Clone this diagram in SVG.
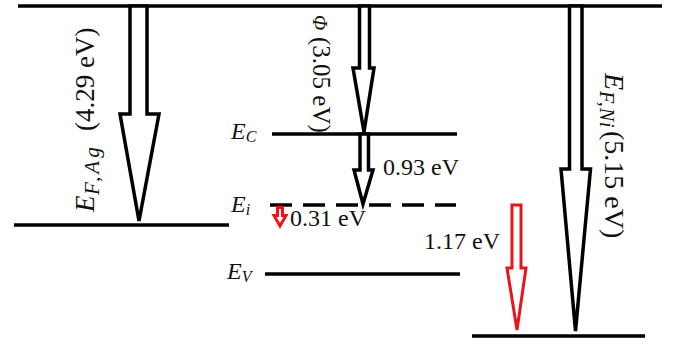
<svg xmlns="http://www.w3.org/2000/svg" width="673" height="344" viewBox="0 0 673 344">
<style>
.lvl{stroke:#000;stroke-width:3.5;fill:none}
.arr{fill:#fff;stroke:#000;stroke-width:3.5;stroke-linejoin:miter}
.red{fill:#fff;stroke:#e8161b;stroke-width:3;stroke-linejoin:miter}
text{font-family:"Liberation Serif","Times New Roman",serif;fill:#111}
.it{font-style:italic}
.num{font-size:24px}
.lab{font-size:24px;font-style:italic}
</style>
<rect width="673" height="344" fill="#fff"/>
<g id="vacuum-level"><line class="lvl" x1="18" y1="6" x2="662" y2="6"/></g>
<g id="ag-fermi"><line class="lvl" x1="14" y1="225" x2="229" y2="225"/></g>
<g id="ec-level"><line class="lvl" x1="272" y1="134" x2="457" y2="134"/>
<text class="lab" x="231" y="139">E<tspan font-size="16" dy="3">C</tspan></text></g>
<g id="ei-level"><line class="lvl" x1="270" y1="205" x2="456" y2="205" stroke-dasharray="22 11"/>
<text class="lab" x="231" y="212">E<tspan font-size="16" dy="3">i</tspan></text></g>
<g id="ev-level"><line class="lvl" x1="265" y1="274" x2="460" y2="274"/>
<text class="lab" x="227" y="279">E<tspan font-size="16" dy="3">V</tspan></text></g>
<g id="ni-fermi"><line class="lvl" x1="472" y1="336" x2="645" y2="336"/></g>
<g id="connectors">
<polygon class="arr" points="130,6 147,6 147,114 159,114 139,221 120,114 130,114"/>
<polygon class="arr" stroke-width="3" points="359.5,6 369.5,6 369.5,68 374,68 364,132 353,68 359.5,68"/>
<polygon class="arr" stroke-width="3" points="360,134 368.5,134 368.5,170 373,170 363,204 354,170 360,170"/>
<polygon class="arr" points="569.5,6 582,6 582,169 590.5,169 575.5,331 561,169 569.5,169"/>
<polygon class="red" points="512,205 521,205 521,268 526,268 517,330 507,268 512,268"/>
<polygon class="red" stroke-width="2.5" points="277.5,207.5 282.5,207.5 282.5,215.5 286,215.5 280,226 274,215.5 277.5,215.5"/>
</g>
<g id="labels">
<text transform="translate(94,212) rotate(-90)" font-size="27"><tspan class="it">E</tspan><tspan class="it" x="17" dy="5" font-size="21" letter-spacing="3">F,Ag</tspan><tspan x="81" dy="-5">(4.29 eV)</tspan></text>
<text transform="translate(313,15) rotate(90)" font-size="25"><tspan class="it" font-size="20">Φ</tspan><tspan x="22">(3.05 eV)</tspan></text>
<text transform="translate(605,73) rotate(90)" font-size="28"><tspan class="it">E</tspan><tspan class="it" x="18" dy="5" font-size="20" letter-spacing="1">F,Ni</tspan><tspan x="58" dy="-5">(5.15 eV)</tspan></text>
<text class="num" x="383" y="175">0.93 eV</text>
<text class="num" x="290" y="226">0.31 eV</text>
<text class="num" x="424" y="249">1.17 eV</text>
</g>
</svg>
